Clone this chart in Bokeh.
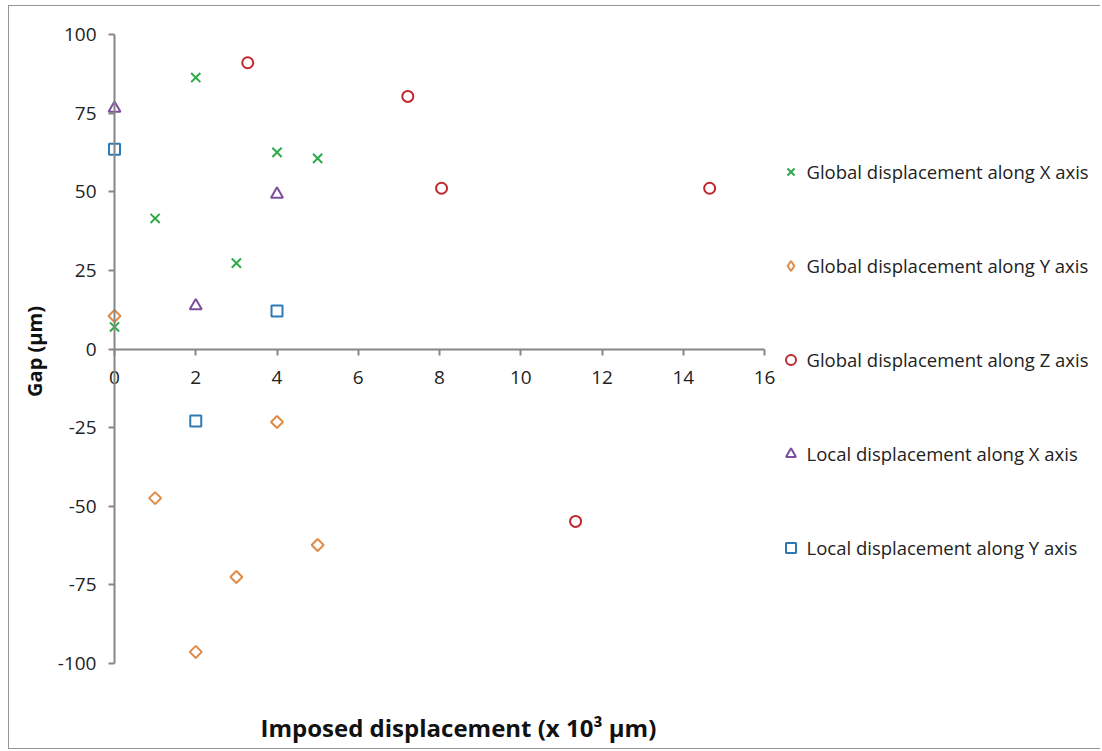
import math
from bokeh.plotting import figure
from bokeh.models import Legend, LegendItem, LinearAxis, FixedTicker, Range1d, Title, PrintfTickFormatter
from bokeh.embed import file_html
from bokeh.resources import INLINE

# ---- data ----
gx_x = [0, 1, 2, 3, 4, 5]
gx_y = [7.0, 41.5, 86.3, 27.3, 62.5, 60.6]

gy_x = [0, 1, 2, 3, 4, 5]
gy_y = [10.5, -47.4, -96.3, -72.5, -23.2, -62.3]

gz_x = [3.28, 7.22, 8.05, 11.35, 14.65]
gz_y = [91.0, 80.3, 51.1, -54.8, 51.1]

lx_x = [0, 2, 4]
lx_y = [76.5, 13.7, 49.2]

ly_x = [0, 2, 4]
ly_y = [63.5, -22.9, 12.1]

x_ticks = [0, 2, 4, 6, 8, 10, 12, 14, 16]
y_ticks = [-100, -75, -50, -25, 0, 25, 50, 75, 100]

labels = ["Global displacement along X axis",
          "Global displacement along Y axis",
          "Global displacement along Z axis",
          "Local displacement along X axis",
          "Local displacement along Y axis"]
colors = ["#2eaa48", "#e08a45", "#c0282d", "#7b4f9e", "#2e7ab5"]

FONT = "Open Sans"

# ---- layout (pixels) ----
W, H = 1100, 750
LEFT, RIGHT, TOP, BOTTOM = 52, 0, 0, 47
fl, fr, ft, fb = LEFT, W - RIGHT, TOP, H - BOTTOM
X0, XPX = 114.0, 40.625      # pixel of x=0, pixels per unit
Y0, YPX = 349.0, 3.15        # pixel of y=0, pixels per unit

x_range = Range1d((fl - X0) / XPX, (fr - X0) / XPX)
y_range = Range1d((Y0 - fb) / YPX, (Y0 - ft) / YPX)

p = figure(width=W, height=H, output_backend="svg", toolbar_location=None,
           x_range=x_range, y_range=y_range,
           x_axis_location=None, y_axis_location=None,
           min_border_left=LEFT, min_border_right=RIGHT, min_border_top=TOP,
           min_border_bottom=BOTTOM)
p.outline_line_color = None
p.xgrid.visible = False
p.ygrid.visible = False
p.border_fill_color = None
p.background_fill_color = None
BC = "#959595"
p.styles = {
    "background": (f"linear-gradient({BC},{BC}) 8px 5px / 1px 744px no-repeat, "
                   f"linear-gradient({BC},{BC}) 8px 5px / 1100px 1px no-repeat, "
                   f"linear-gradient({BC},{BC}) 8px 748px / 1100px 1px no-repeat, white")
}

r1 = p.scatter(gx_x, gx_y, marker="x", size=13, line_color=colors[0], line_width=2)
r2 = p.scatter(gy_x, gy_y, marker="square", angle=math.pi / 4, size=8.5, line_color=colors[1],
               fill_color=None, line_width=2)
r3 = p.scatter(gz_x, gz_y, marker="circle", size=11, line_color=colors[2], fill_color=None, line_width=2)
r4 = p.scatter(lx_x, lx_y, marker="triangle", size=12, line_color=colors[3], fill_color=None, line_width=2)
r5 = p.scatter(ly_x, ly_y, marker="square", size=11, line_color=colors[4], fill_color=None, line_width=2)
# hidden legend proxy for the diamond series (legend glyphs are drawn unrotated)
r2_leg = p.scatter(gy_x, gy_y, marker="diamond", size=12, line_color=colors[1], fill_color=None,
                   line_width=2, visible=False)


def style_axis(ax, standoff):
    ax.minor_tick_line_color = None
    ax.major_tick_out = 6
    ax.major_tick_in = 0
    ax.axis_line_color = "#868686"
    ax.axis_line_width = 2
    ax.major_tick_line_color = "#868686"
    ax.major_tick_line_width = 2
    ax.major_label_text_font = FONT
    ax.major_label_text_font_size = "19px"
    ax.major_label_text_color = "#222222"
    ax.major_label_standoff = standoff
    ax.formatter = PrintfTickFormatter(format="%d")


xaxis = LinearAxis(fixed_location=0, bounds=(0, 16), ticker=FixedTicker(ticks=x_ticks))
style_axis(xaxis, 16)
p.add_layout(xaxis, "below")

yaxis = LinearAxis(fixed_location=0, bounds=(-100, 100), ticker=FixedTicker(ticks=y_ticks))
style_axis(yaxis, 12)
p.add_layout(yaxis, "left")

p.add_layout(Title(text="Imposed displacement (x 10³ µm)", align="left", offset=260 - fl,
                   standoff=13, text_font=FONT, text_font_size="24px", text_font_style="bold",
                   text_color="#111111"), "below")
p.add_layout(Title(text="Gap (µm)", align="center",
                   text_font=FONT, text_font_size="20px", text_font_style="bold",
                   text_color="#111111"), "left")

GW = 25
legend = Legend(items=[LegendItem(label=l, renderers=[r])
                       for l, r in zip(labels, [r1, r2_leg, r3, r4, r5])],
                orientation="vertical")
legend.glyph_width = GW
legend.glyph_height = GW
legend.label_height = GW
legend.spacing = 94 - GW
legend.label_standoff = 4
legend.padding = 0
legend.margin = 0
legend.border_line_color = None
legend.background_fill_alpha = 0
legend.inactive_fill_alpha = 0
legend.label_text_font = FONT
legend.label_text_font_size = "18.5px"
legend.label_text_color = "#222222"
leg_top = 172 - GW / 2
leg_h = 5 * GW + 4 * (94 - GW)
legend.location = (790 - GW / 2 - fl, fb - (leg_top + leg_h))
p.add_layout(legend, "center")

open("out.html", "w").write(file_html(p, INLINE))
